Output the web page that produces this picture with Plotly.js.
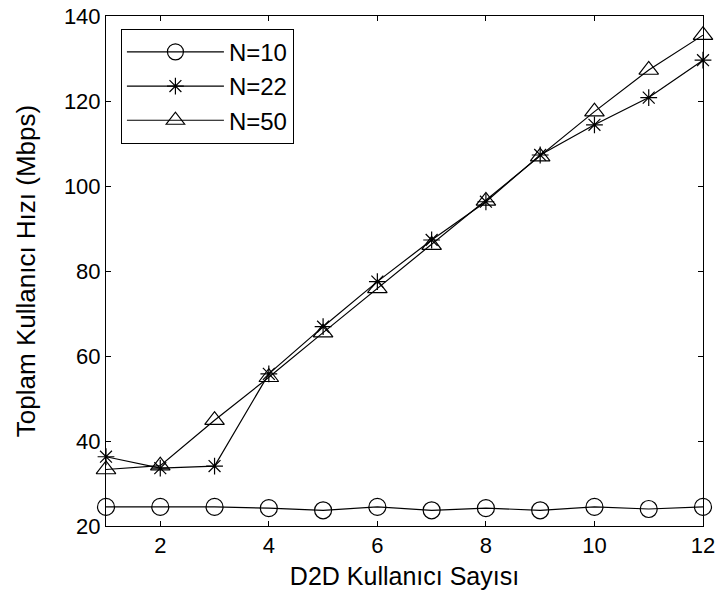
<!DOCTYPE html>
<html>
<head>
<meta charset="utf-8">
<script src="https://cdn.plot.ly/plotly-3.0.1.min.js"></script>
<style>html,body{margin:0;padding:0;background:#fff;}#chart{width:716px;height:602px;}</style>
</head>
<body>
<div id="chart"></div>
<script>
const xVals = [1,2,3,4,5,6,7,8,9,10,11,12];
const n10 = [24.5,24.5,24.5,24.2,23.7,24.5,23.7,24.2,23.7,24.5,24.0,24.5];
const n22 = [36.3,33.6,34.1,55.8,66.9,77.5,87.3,96.3,107.3,114.4,120.8,129.6];
const n50 = [33.3,34.2,44.9,55.0,65.5,75.9,86.1,96.5,106.9,117.5,127.3,135.5];
const seriesNames = ['N=10','N=22','N=50'];
const xTicks = [2,4,6,8,10,12];
const yTicks = [20,40,60,80,100,120,140];

const font = {family: 'Liberation Sans, Arial, sans-serif', color: '#000'};
const mk = (y, name, symbol, size) => ({
  x: xVals, y: y, name: name, type: 'scatter', mode: 'lines+markers',
  line: {color: '#000', width: 1.2},
  marker: {symbol: symbol, size: size, color: '#000', line: {color: '#000', width: 1.2}},
  cliponaxis: false
});
const data = [
  mk(n10, seriesNames[0], 'circle-open', 17),
  mk(n22, seriesNames[1], 'asterisk-open', 14),
  mk(n50, seriesNames[2], 'triangle-up-open', 17)
];
const axisCommon = {
  showgrid: false, zeroline: false, showline: true, linecolor: '#000', linewidth: 1,
  mirror: 'ticks', ticks: 'inside', ticklen: 5, tickcolor: '#000', tickwidth: 1,
  tickfont: Object.assign({size: 22}, font)
};
const layout = {
  width: 716, height: 602,
  margin: {l: 106, r: 13, t: 16, b: 76},
  paper_bgcolor: '#fff', plot_bgcolor: '#fff',
  showlegend: true,
  xaxis: Object.assign({}, axisCommon, {
    range: [1, 12], tickvals: xTicks, ticktext: xTicks.map(String),
    title: {text: 'D2D Kullanıcı Sayısı', font: Object.assign({size: 25}, font), standoff: 10}
  }),
  yaxis: Object.assign({}, axisCommon, {
    range: [20, 140], tickvals: yTicks, ticktext: yTicks.map(String),
    title: {text: 'Toplam Kullanıcı Hızı (Mbps)', font: Object.assign({size: 26}, font), standoff: 20}
  }),
  legend: {
    x: 0.025, y: 0.975, xanchor: 'left', yanchor: 'top',
    bgcolor: '#fff', bordercolor: '#000', borderwidth: 1,
    font: Object.assign({size: 24}, font),
    itemwidth: 97, tracegroupgap: 0
  }
};
Plotly.newPlot('chart', data, layout, {displayModeBar: false, staticPlot: true});
</script>
</body>
</html>
